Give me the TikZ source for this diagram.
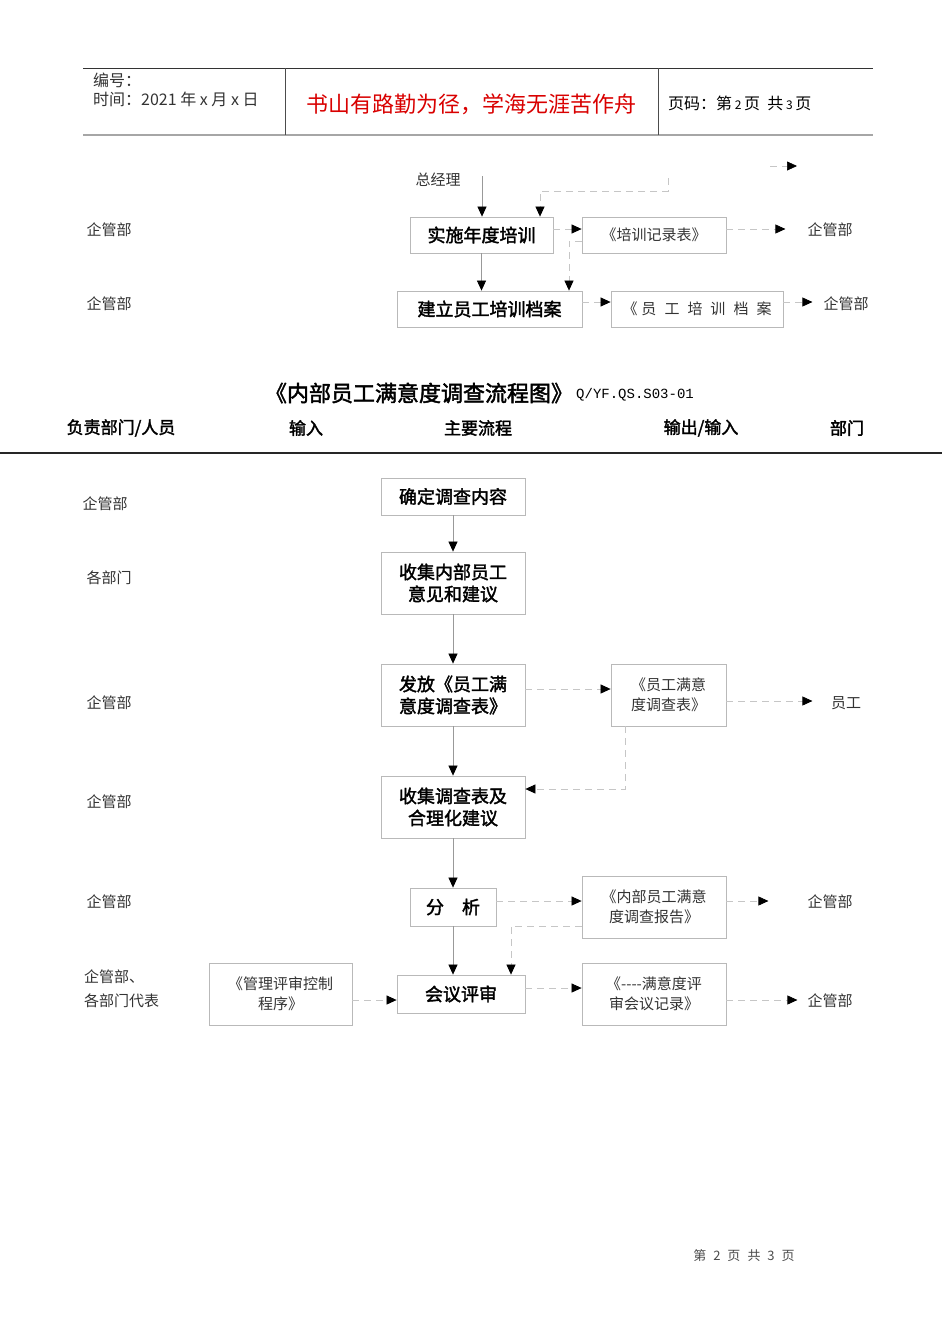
\documentclass[tikz,border=0pt]{standalone}
\usepackage{fontspec}
\setmainfont{Noto Sans CJK SC}
\newfontfamily\cjkb[FakeBold=2]{Noto Sans CJK SC}
\newfontfamily\codefont{Liberation Mono}
\usetikzlibrary{arrows.meta}

\begin{document}
\begin{tikzpicture}[x=1pt, y=-1pt,
    box/.style={draw=gray!55, line width=0.8pt, font=\cjkb\fontsize{18}{22}\selectfont, align=center, inner sep=0pt},
    doc/.style={draw=gray!55, line width=0.8pt, font=\fontsize{15}{20}\selectfont, text=black!80, align=center, inner sep=0pt},
    lab/.style={font=\fontsize{15}{24}\selectfont, text=black!80, inner sep=0pt},
    colhead/.style={font=\cjkb\fontsize{17}{20}\selectfont, inner sep=0pt},
    conn/.style={draw=gray!80, line width=0.7pt, -{Triangle[black,length=10pt,width=9pt]}},
    dconn/.style={conn, draw=gray!45, dash pattern=on 7pt off 5pt},
  ]
    % Pagina
    \useasboundingbox (0,0) rectangle (950,1344);
    \fill[white] (0,0) rectangle (950,1344);
    % Intestazione
    \draw[black!80, line width=0.7pt] (83,68) -- (873,68);
    \draw[gray!70, line width=1.5pt] (83,135) -- (873,135);
    \draw[black!70, line width=0.7pt] (285,68) -- (285,135);
    \draw[black!70, line width=0.7pt] (658,68) -- (658,135);
    \node[lab, anchor=west, font=\fontsize{16}{20}\selectfont] (code) at (93,80) {编号：};
    \node[lab, anchor=west, font=\fontsize{16}{20}\selectfont] (date) at (93,99) {时间：2021 年 x 月 x 日};
    \node[font=\fontsize{22}{24}\selectfont, text=red!85!black, inner sep=0pt] (motto) at (471,104) {书山有路勤为径，学海无涯苦作舟};
    \node[lab, anchor=west, text=black, font=\fontsize{16}{20}\selectfont] (pageno) at (668,103) {页码：第\,{\fontsize{12}{12}\selectfont 2}\,页 \ 共\,{\fontsize{12}{12}\selectfont 3}\,页};
    % Parte alta
    \node[lab] (gm) at (438,180) {总经理};
    \node[box, minimum width=143, minimum height=36] (train) at (481.5,235) {实施年度培训};
    \node[doc, minimum width=144, minimum height=36] (record) at (654,235) {《培训记录表》};
    \node[box, minimum width=185, minimum height=36] (archive) at (489.5,309) {建立员工培训档案};
    \node[doc, minimum width=172, minimum height=36] (file) at (697,309) {《\hspace{4pt}员\hspace{8pt}工\hspace{8pt}培\hspace{8pt}训\hspace{8pt}档\hspace{8pt}案};
    \node[lab] (qa) at (109,230) {企管部};
    \node[lab] (qb) at (109,304) {企管部};
    \node[lab] (qc) at (830,230) {企管部};
    \node[lab] (qd) at (846,304) {企管部};
    \coordinate (gmline) at (482,176);
    \coordinate (fb) at (668,178);
    \coordinate (s1) at (770,166);
    \coordinate (s2) at (797,166);
    \draw[conn] (gmline) -- (gmline |- train.north);
    \draw[dconn] (fb) -- ++(0,13) -| ([xshift=58.5pt]train.north);
    \draw[dconn] (s1) -- (s2);
    \draw[dconn] ([yshift=6pt]train.east) -- ([yshift=6pt]record.west);
    \draw[dconn] ([yshift=6pt]record.east) -- ++(59,0);
    \draw[dconn] ([yshift=-6pt]record.west) -| ([xshift=79.5pt]archive.north);
    \draw[conn] (train.south) -- (train.south |- archive.north);
    \draw[dconn] ([yshift=7pt]archive.east) -- ([yshift=7pt]file.west);
    \draw[dconn] ([yshift=7pt]file.east) -- ++(29,0);
    % Titolo e colonne
    \node[font=\cjkb\fontsize{22}{24}\selectfont, inner sep=0pt] (title) at (419,393) {《内部员工满意度调查流程图》};
    \node[font=\codefont\fontsize{14}{14}\selectfont, inner sep=0pt, anchor=west] (qs) at (576,395) {Q/YF.QS.S03-01};
    \node[colhead] (h1) at (121,428) {负责部门/人员};
    \node[colhead] (h2) at (306,428) {输入};
    \node[colhead] (h3) at (478,428) {主要流程};
    \node[colhead] (h4) at (701,428) {输出/输入};
    \node[colhead] (h5) at (847,428) {部门};
    \draw[black!85, line width=1.5pt] (0,453) -- (942,453);
    % Flusso
    \node[box, minimum width=144, minimum height=37] (fix) at (453,496.5) {确定调查内容};
    \node[box, minimum width=144, minimum height=62] (collect) at (453,583) {收集内部员工\\意见和建议};
    \node[box, minimum width=144, minimum height=62] (issue) at (453,695) {发放《员工满\\意度调查表》};
    \node[doc, minimum width=115, minimum height=62] (form) at (668.5,695) {《员工满意\\度调查表》};
    \node[box, minimum width=144, minimum height=62] (gather) at (453,807) {收集调查表及\\合理化建议};
    \node[box, minimum width=86, minimum height=38] (analyse) at (453,907) {分\quad 析};
    \node[doc, minimum width=144, minimum height=62] (report) at (654,907) {《内部员工满意\\度调查报告》};
    \node[box, minimum width=128, minimum height=38] (review) at (461,994) {会议评审};
    \node[doc, minimum width=144, minimum height=62] (minutes) at (654,994) {《{-}{-}{-}{-}满意度评\\审会议记录》};
    \node[doc, minimum width=143, minimum height=62] (proc) at (280.5,994) {《管理评审控制\\程序》};
    % Reparti
    \node[lab] (d1) at (105,504) {企管部};
    \node[lab] (d2) at (109,578) {各部门};
    \node[lab] (d3) at (109,703) {企管部};
    \node[lab] (d4) at (109,802) {企管部};
    \node[lab] (d5) at (109,902) {企管部};
    \node[lab, anchor=west, align=left] (d6) at (84,989) {企管部、\\各部门代表};
    \node[lab] (o1) at (846,703) {员工};
    \node[lab] (o2) at (830,902) {企管部};
    \node[lab] (o3) at (830,1001) {企管部};
    % Frecce
    \draw[conn] (fix.south) -- (collect.north);
    \draw[conn] (collect.south) -- (issue.north);
    \draw[dconn] ([yshift=6pt]issue.east) -- ([yshift=6pt]form.west);
    \draw[dconn] ([yshift=-6pt]form.east) -- ++(86,0);
    \draw[dconn] ([xshift=-43.5pt]form.south) |- ([yshift=18pt]gather.east);
    \draw[conn] (issue.south) -- (gather.north);
    \draw[conn] (gather.south) -- (analyse.north);
    \draw[dconn] ([yshift=6pt]analyse.east) -- ([yshift=6pt]report.west);
    \draw[dconn] ([yshift=6pt]report.east) -- ++(42,0);
    \draw[dconn] ([yshift=-19pt]report.west) -| ([xshift=50pt]review.north);
    \draw[conn] (analyse.south) -- (analyse.south |- review.north);
    \draw[dconn] ([yshift=6pt]review.east) -- ([yshift=6pt]minutes.west);
    \draw[dconn] ([yshift=-6pt]minutes.east) -- ++(71,0);
    \draw[dconn] ([yshift=-6pt]proc.east) -- ([yshift=-6pt]review.west);
    % Piè di pagina
    \node[font=\fontsize{13}{14}\selectfont, text=black!70, inner sep=0pt] (foot) at (744,1256) {第\hspace{7pt}2\hspace{7pt}页\hspace{7pt}共\hspace{7pt}3\hspace{7pt}页};
\end{tikzpicture}
\end{document}
